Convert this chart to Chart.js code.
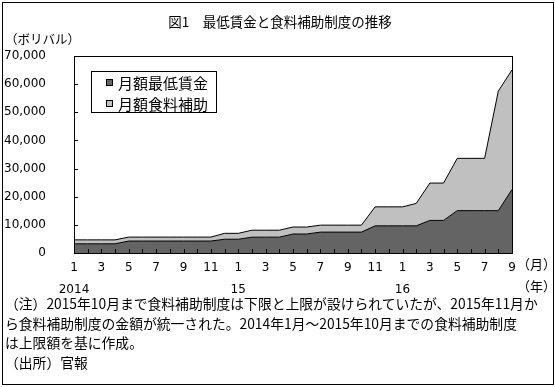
<!DOCTYPE html>
<html>
<head>
<meta charset="utf-8">
<script src="https://cdn.jsdelivr.net/npm/chart.js@4.4.1/dist/chart.umd.min.js"></script>
<style>
  html, body { margin: 0; padding: 0; background: #fff; }
  body { width: 555px; height: 387px; position: relative; overflow: hidden;
         font-family: "Noto Sans CJK JP", sans-serif; color: #000; }
  #frame { position: absolute; left: 2px; top: 2px; width: 550px; height: 381px; border: 1px solid #000; }
  canvas { position: absolute; left: 0; top: 0; }
  .txt { position: absolute; white-space: nowrap; line-height: 1; }
  #title { left: 0; width: 560px; top: 15px; text-align: center; font-size: 13.5px; }
  #unit { left: 5px; top: 33px; font-size: 12.5px; }
  #legend { position: absolute; left: 91px; top: 71px; width: 124px; height: 40px;
            border: 1px solid #000; background: #fff; }
  .item { position: absolute; left: 14px; font-size: 15px; line-height: 1; white-space: nowrap; }
  .sw { display: inline-block; width: 5px; height: 5px; border: 1px solid #000;
        margin-right: 5px; vertical-align: 3px; }
  .note { left: 5px; font-size: 13.8px; }
</style>
</head>
<body>
<div id="frame"></div>
<canvas id="chart" width="555" height="387"></canvas>
<div class="txt" id="title">図1　最低賃金と食料補助制度の推移</div>
<div class="txt" id="unit">（ボリバル）</div>
<div id="legend"></div>
<div class="txt" style="left:517px;top:257px;font-size:13px;">（月）</div>
<div class="txt" style="left:517px;top:279px;font-size:13px;">（年）</div>
<div class="txt note" style="top:297px;">（注）2015年10月まで食料補助制度は下限と上限が設けられていたが、2015年11月か</div>
<div class="txt note" style="top:317px;">ら食料補助制度の金額が統一された。2014年1月～2015年10月までの食料補助制度</div>
<div class="txt note" style="top:336px;">は上限額を基に作成。</div>
<div class="txt note" style="top:356px;">（出所）官報</div>
<script>
// months Jan 2014 .. Sep 2016
const monthLabels = ["1","2","3","4","5","6","7","8","9","10","11","12",
                     "1","2","3","4","5","6","7","8","9","10","11","12",
                     "1","2","3","4","5","6","7","8","9"];
const yearLabels = ["2014","","","","","","","","","","","",
                    "15","","","","","","","","","","","",
                    "16","","","","","","","","",""];

// 月額最低賃金 (bolivars)
const minWage = [3270,3270,3270,3270,4251,4251,4251,4251,4251,4251,4251,4889,
                 4889,5622,5622,5622,6747,6747,7422,7422,7422,7422,9648,9648,
                 9648,9648,11578,11578,15051,15051,15051,15051,22577];
// 月額食料補助 (bolivars)
const foodAid = [1397,1397,1397,1397,1397,1397,1397,1397,1397,1397,1397,2096,
                 2096,2475,2475,2475,2475,2475,2475,2475,2475,2475,6750,6750,
                 6750,7965,13275,13275,18585,18585,18585,42480,42480];

const seriesNames = ["月額最低賃金", "月額食料補助"];
const seriesColors = ["#646464", "#c0c0c0"];
const yTicks = [0, 10000, 20000, 30000, 40000, 50000, 60000, 70000];

// inner tick marks + plot frame
const innerTicks = {
  id: "innerTicks",
  afterDatasetsDraw(chart) {
    const { ctx, chartArea: a, scales: { x, y } } = chart;
    ctx.save();
    ctx.strokeStyle = "#000";
    ctx.lineWidth = 1;
    ctx.strokeRect(Math.round(a.left) + 0.5, Math.round(a.top) + 0.5,
                   Math.round(a.right - a.left), Math.round(a.bottom - a.top));
    ctx.beginPath();
    monthLabels.forEach((m, i) => {
      const px = Math.round(x.getPixelForValue(i)) + 0.5;
      ctx.moveTo(px, a.bottom);
      ctx.lineTo(px, a.bottom - 4);
    });
    yTicks.forEach(v => {
      const py = Math.round(y.getPixelForValue(v)) + 0.5;
      ctx.moveTo(a.left, py);
      ctx.lineTo(a.left + 4, py);
    });
    ctx.stroke();
    ctx.restore();
  }
};

const chart = new Chart(document.getElementById("chart"), {
  type: "line",
  data: {
    labels: monthLabels,
    datasets: [
      { label: seriesNames[0], data: minWage, fill: "origin",
        backgroundColor: seriesColors[0], borderColor: "#000" },
      { label: seriesNames[1], data: foodAid, fill: "-1",
        backgroundColor: seriesColors[1], borderColor: "#000" }
    ]
  },
  options: {
    responsive: false,
    animation: false,
    layout: { padding: { left: 0, top: 56, right: 43, bottom: 84 } },
    plugins: { legend: { display: false }, tooltip: { enabled: false } },
    elements: { point: { radius: 0 }, line: { tension: 0, borderWidth: 1 } },
    scales: {
      x: {
        grid: { display: false },
        border: { display: true, color: "#000" },
        ticks: {
          autoSkip: false, maxRotation: 0, minRotation: 0, color: "#000", padding: -4,
          font: { family: "DejaVu Sans", size: 12, lineHeight: 1.8 },
          callback: (v, i) => i % 2 ? "" : (yearLabels[i] ? [monthLabels[i], yearLabels[i]] : monthLabels[i])
        },
        afterFit: s => { s.height = 50; }
      },
      y: {
        stacked: true, min: 0, max: 70000,
        grid: { display: false },
        border: { display: true, color: "#000" },
        ticks: {
          stepSize: 10000, color: "#000", padding: 20,
          font: { family: "DejaVu Sans", size: 12 },
          callback: v => v.toLocaleString("en-US")
        },
        afterFit: s => { s.width = 74; }
      }
    }
  },
  plugins: [innerTicks]
});

// legend box
const legend = document.getElementById("legend");
seriesNames.forEach((name, i) => {
  const d = document.createElement("div");
  d.className = "item";
  d.style.top = (3 + i * 21) + "px";
  d.innerHTML = '<span class="sw" style="background:' + seriesColors[i] + '"></span>' + name;
  legend.appendChild(d);
});
</script>
</body>
</html>
